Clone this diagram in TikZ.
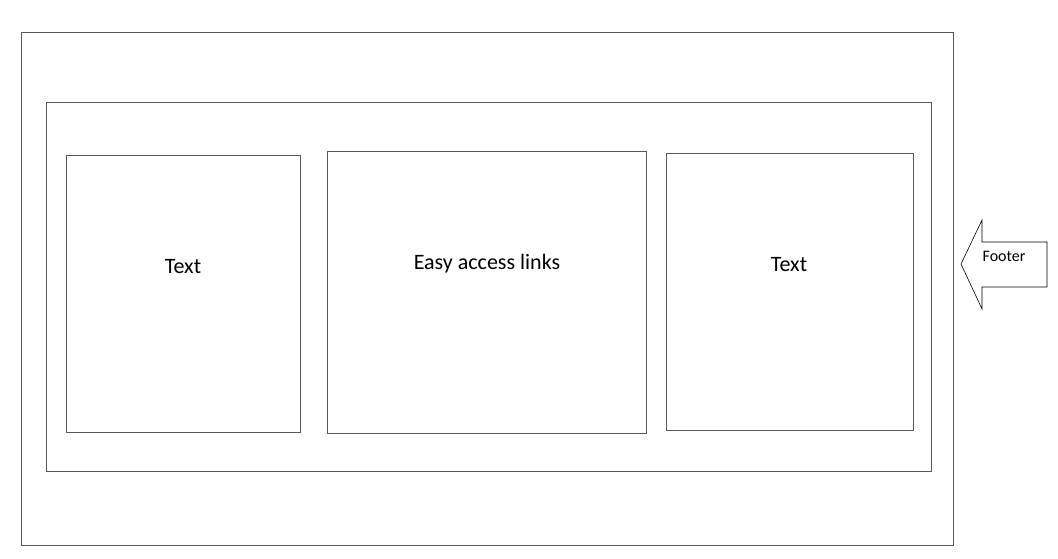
\documentclass[tikz,border=0pt]{standalone}
\usepackage{fontspec}
\setmainfont{Carlito}
\begin{document}
\begin{tikzpicture}[x=1pt, y=-1pt]
			\useasboundingbox (0,0) rectangle (1058,558);
			\tikzset{frame/.style={draw=black!65, line width=0.9pt}}
			\draw[frame] (21,32) rectangle (953,545);
			\draw[frame] (46,102) rectangle (931,471);
			\draw[frame] (66,155) rectangle (300,432);
			\draw[frame] (327,151) rectangle (646,433);
			\draw[frame] (666,153) rectangle (913,430);
			\node (lefttext) at (183,267) {\fontsize{22}{26}\selectfont Text};
			\node (links) at (487,264) {\fontsize{22}{26}\selectfont Easy access links};
			\node (righttext) at (789,265) {\fontsize{22}{26}\selectfont Text};
			\draw[black, line width=0.6pt] (961,264)--(982,220)--(982,242)--(1047,242)--(1047,287)--(982,287)--(982,309)--cycle;
			\node (footer) at (1004,256) {\fontsize{16}{19}\selectfont Footer};
		\end{tikzpicture}
\end{document}
